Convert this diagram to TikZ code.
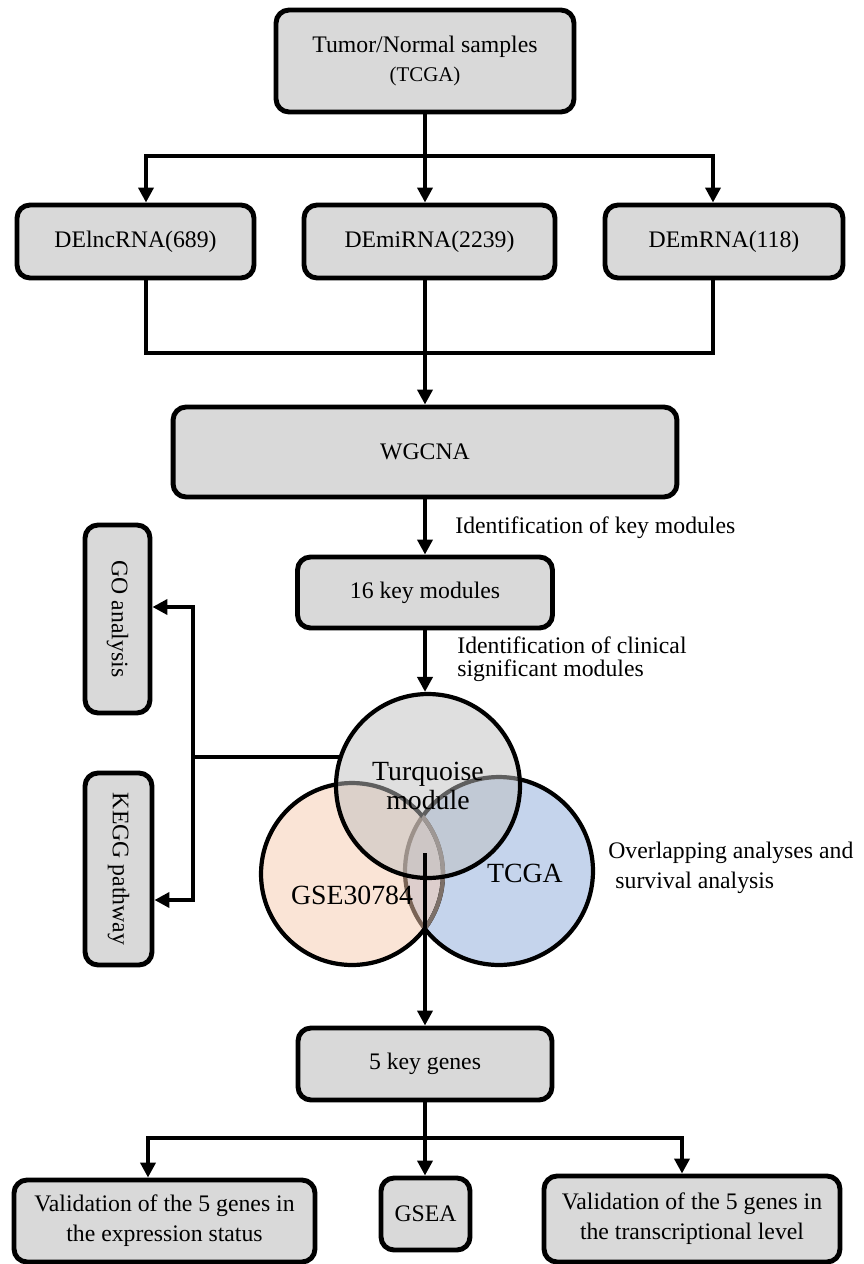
\documentclass[tikz,border=0pt]{standalone}
\usepackage{fontspec}
\setmainfont{Liberation Serif}
\usetikzlibrary{positioning,calc,arrows.meta}
\definecolor{boxgray}{HTML}{D9D9D9}
\definecolor{gsepeach}{RGB}{245,201,173}
\definecolor{tcgablue}{RGB}{197,212,236}
\definecolor{turqgray}{HTML}{BFBFBF}
\definecolor{fadeline}{RGB}{125,112,105}

\begin{document}
\begin{tikzpicture}[x=0.02cm,y=-0.02cm,
	font=\fontsize{13.5}{17}\selectfont,
	box/.style={draw, line width=2.8pt, rounded corners=0.26cm, fill=boxgray, align=center, inner sep=2pt},
	link/.style={line width=2.3pt},
	flow/.style={line width=2.3pt, -{Triangle[length=8.5pt,width=8.5pt]}},
	venn/.style={draw, circle, line width=2.4pt, inner sep=0pt},
	note/.style={inner sep=0pt, align=left, anchor=west},
	venntext/.style={font=\fontsize{15.8}{17}\selectfont, inner sep=0pt}]
				\useasboundingbox (0,0) rectangle (863,1264);
				\node[box, minimum width=5.96cm, minimum height=2.04cm] (tumor) at (425,61) {Tumor/Normal samples\\{\fontsize{11.9}{13}\selectfont (TCGA)}};
				\node[box, minimum width=4.74cm, minimum height=1.46cm] (lnc) at (135.5,241.5) {DElncRNA(689)};
				\node[box, minimum width=5.02cm, minimum height=1.46cm] (mi) at (429.5,241.5) {DEmiRNA(2239)};
				\node[box, minimum width=4.76cm, minimum height=1.46cm] (m) at (724,241.5) {DEmRNA(118)};
				\node[box, minimum width=10.08cm, minimum height=1.8cm] (wgcna) at (425,452) {WGCNA};
				\node[box, minimum width=5.1cm, minimum height=1.42cm] (key16) at (425,592.5) {16 key modules};
				\node[box, rotate=-90, minimum width=3.76cm, minimum height=1.3cm] (go) at (117.5,619) {GO analysis};
				\node[box, rotate=-90, minimum width=3.84cm, minimum height=1.34cm] (kegg) at (118.5,869) {KEGG pathway};
				\node[venn, fill=tcgablue, minimum size=3.76cm] (tcga) at (499,871) {};
				\node[venn, fill=gsepeach, fill opacity=0.5, minimum size=3.64cm] (gse) at (352,874) {};
				\begin{scope}
					\clip (tcga.center) circle[radius=1.88cm];
					\draw[fadeline, line width=2.4pt] (gse.center) circle[radius=1.82cm];
				\end{scope}
				\node[venn, venntext, fill=turqgray, fill opacity=0.5, text opacity=1, align=center, minimum size=3.68cm] (turq) at (428,786) {Turquoise\\module};
				\node[venntext] (gsetxt) at (352,895) {GSE30784};
				\node[venntext] (tcgatxt) at (525,873) {TCGA};
				\node[box, minimum width=5.08cm, minimum height=1.44cm] (genes) at (425,1064) {5 key genes};
				\node[box, minimum width=6.02cm, minimum height=1.64cm] (val1) at (164.5,1221) {Validation of the 5 genes in\\the expression status};
				\node[box, minimum width=1.78cm, minimum height=1.44cm] (gsea) at (425.5,1214) {GSEA};
				\node[box, minimum width=5.92cm, minimum height=1.72cm] (val2) at (692,1219) {Validation of the 5 genes in\\the transcriptional level};
				\node[note] (lab1) at (455,528) {Identification of key modules};
				\node[note, font=\fontsize{13.5}{13}\selectfont] (lab2) at (457,659.5) {Identification of clinical\\significant modules};
				\node[note] (lab3) at (608,867.5) {Overlapping analyses and\\\hspace*{0.3em}survival analysis};
				\coordinate (j1) at (425,156);
				\coordinate (j1l) at (146,156);
				\coordinate (j1r) at (713,156);
				\coordinate (j2l) at (146,353);
				\coordinate (j2r) at (713,353);
				\coordinate (b1) at (193,607);
				\coordinate (b2) at (193,900);
				\coordinate (b0) at (turq.162 -| b1);
				\coordinate (vs) at (425,853);
				\coordinate (j3) at (425,1138);
				\coordinate (j3l) at (148,1138);
				\coordinate (j3r) at (682,1138);
				\draw[link] (tumor.south) -- (j1);
				\draw[flow] (j1) -- (j1l) -- (j1l |- lnc.north);
				\draw[flow] (j1) -- (j1r) -- (j1r |- m.north);
				\draw[flow] (j1) -- (j1 |- mi.north);
				\draw[link] (j2l |- lnc.south) -- (j2l) -- (j2r) -- (j2r |- m.south);
				\draw[flow] (j1 |- mi.south) -- (wgcna.north);
				\draw[flow] (wgcna.south) -- (key16.north);
				\draw[flow] (key16.south) -- (key16.south |- turq.north);
				\draw[link] (turq.162) -- (b0);
				\draw[flow] (b0) -- (b1) -- (b1 -| go.north);
				\draw[flow] (b0) -- (b2) -- (b2 -| kegg.north);
				\draw[flow] (vs) -- (vs |- genes.north);
				\draw[link] (genes.south) -- (j3);
				\draw[flow] (j3) -- (j3l) -- (j3l |- val1.north);
				\draw[flow] (j3) -- (j3r) -- (j3r |- val2.north);
				\draw[flow] (j3) -- (j3 |- gsea.north);
				\end{tikzpicture}
\end{document}
